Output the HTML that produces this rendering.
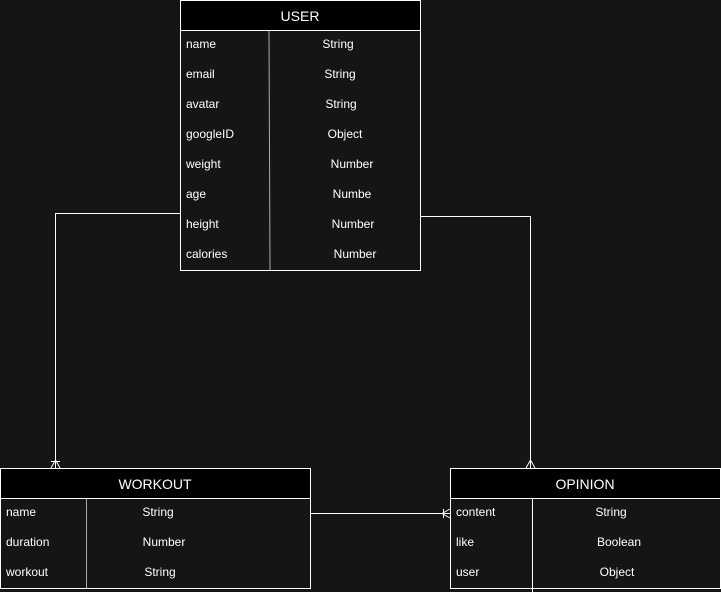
<!DOCTYPE html>
<html><head><style>html,body{margin:0;padding:0;background:#151515;}svg{display:block}</style></head>
<body>
<svg width="721" height="592" xmlns="http://www.w3.org/2000/svg" font-family="Liberation Sans, sans-serif" font-size="12" fill="#fff">
<rect width="721" height="592" fill="#151515"/>
<!-- USER -->
<rect x="180.5" y="0.5" width="240" height="270" fill="#151515" stroke="#fff"/>
<rect x="180.5" y="0.5" width="240" height="30" fill="#000" stroke="#fff"/>
<text x="300" y="21" font-size="14" text-anchor="middle">USER</text>
<line x1="269" y1="31" x2="270" y2="270" stroke="#aaa"/>
<g>
<text x="186" y="48">name</text><text x="338" y="48" text-anchor="middle">String</text>
<text x="186" y="78">email</text><text x="340" y="78" text-anchor="middle">String</text>
<text x="186" y="108">avatar</text><text x="341" y="108" text-anchor="middle">String</text>
<text x="186" y="138">googleID</text><text x="345" y="138" text-anchor="middle">Object</text>
<text x="186" y="168">weight</text><text x="352" y="168" text-anchor="middle">Number</text>
<text x="186" y="198">age</text><text x="352" y="198" text-anchor="middle">Numbe</text>
<text x="186" y="228">height</text><text x="353" y="228" text-anchor="middle">Number</text>
<text x="186" y="258">calories</text><text x="355" y="258" text-anchor="middle">Number</text>
</g>
<!-- connectors -->
<polyline points="180,213.5 55.5,213.5 55.5,468" fill="none" stroke="#fff"/>
<line x1="51" y1="461.5" x2="60" y2="461.5" stroke="#fff"/>
<path d="M51,468 L55.5,460 L60,468" fill="none" stroke="#fff"/>
<polyline points="421,216.5 530.5,216.5 530.5,468" fill="none" stroke="#fff"/>
<path d="M526,468 L530.5,460 L535,468" fill="none" stroke="#fff"/>
<line x1="310" y1="513.5" x2="450" y2="513.5" stroke="#fff"/>
<line x1="443.5" y1="509" x2="443.5" y2="518" stroke="#fff"/>
<path d="M450,509 L442,513.5 L450,518" fill="none" stroke="#fff"/>
<!-- WORKOUT -->
<rect x="0.5" y="468.5" width="310" height="120" fill="#151515" stroke="#fff"/>
<rect x="0.5" y="468.5" width="310" height="30" fill="#000" stroke="#fff"/>
<text x="155" y="489" font-size="14" text-anchor="middle">WORKOUT</text>
<line x1="86.5" y1="499" x2="86.5" y2="588" stroke="#aaa"/>
<text x="6" y="516">name</text><text x="158" y="516" text-anchor="middle">String</text>
<text x="6" y="546">duration</text><text x="164" y="546" text-anchor="middle">Number</text>
<text x="6" y="576">workout</text><text x="160" y="576" text-anchor="middle">String</text>
<!-- OPINION -->
<rect x="450.5" y="468.5" width="270" height="120" fill="#151515" stroke="#fff"/>
<rect x="450.5" y="468.5" width="270" height="30" fill="#000" stroke="#fff"/>
<text x="585" y="489" font-size="14" text-anchor="middle">OPINION</text>
<line x1="532.5" y1="499" x2="532.5" y2="592" stroke="#fff"/>
<text x="456" y="516">content</text><text x="611" y="516" text-anchor="middle">String</text>
<text x="456" y="546">like</text><text x="619" y="546" text-anchor="middle">Boolean</text>
<text x="456" y="576">user</text><text x="617" y="576" text-anchor="middle">Object</text>
</svg>
</body></html>
